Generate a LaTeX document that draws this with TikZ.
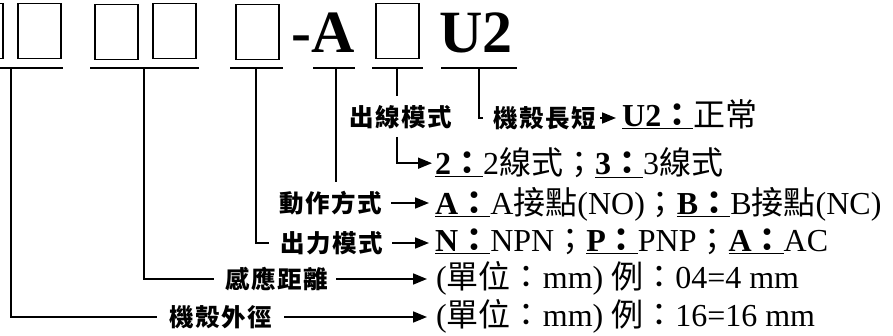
\documentclass[tikz,border=0pt]{standalone}
\usepackage{fontspec}
\setmainfont{Liberation Serif}
\newfontfamily\zhfont{Noto Sans CJK TC}
\newfontfamily\zhlab{Noto Sans CJK TC}[LetterSpace=6]
\newcommand\zh[1]{{\zhfont #1}}
\usetikzlibrary{arrows.meta}
\begin{document}
\begin{tikzpicture}[x=1pt,y=-1pt,
  box/.style={draw,line width=1.5pt,minimum width=43pt,minimum height=55pt,inner sep=0pt,anchor=north west},
  ln/.style={line width=1.7pt},
  arr/.style={line width=1.7pt,-{Triangle[length=14pt,width=11pt]}},
  lab/.style={font=\fontsize{24.5}{24.5}\zhlab\bfseries,inner sep=0pt},
  txt/.style={font=\fontsize{32}{32}\selectfont,inner sep=0pt,anchor=base west},
  big/.style={font=\fontsize{60}{60}\selectfont\bfseries,inner sep=0pt,anchor=base west}]
\useasboundingbox (0,0) rectangle (893,336);
\clip (0,0) rectangle (893,336);
% boxes
\node[box] (b0) at (-41,3) {};
\node[box] (b1) at (17,3) {};
\node[box] (b2) at (94,4) {};
\node[box] (b3) at (152,3) {};
\node[box] (b4) at (235,4) {};
\node[box] (b5) at (375,3) {};
\node[big] (dA) at (291,53) {-A};
\node[big] (uu) at (439,53) {U2};
% underlines
\coordinate (s1a) at (-5,68);  \coordinate (s1b) at (63,68);
\coordinate (s2a) at (90,68);  \coordinate (s2b) at (199,68);
\coordinate (s3a) at (230,68); \coordinate (s3b) at (283,68);
\coordinate (s4a) at (313,68); \coordinate (s4b) at (355,68);
\coordinate (s5a) at (372,68); \coordinate (s5b) at (423,68);
\coordinate (s6a) at (441,68); \coordinate (s6b) at (517,68);
\foreach \i in {1,...,6} {\draw[ln] (s\i a) -- (s\i b);}
\coordinate (t1) at (11,68);
\coordinate (t2) at (144,68);
\coordinate (t3) at (256,68);
\coordinate (t4) at (336,68);
\coordinate (t5) at (397,68);
\coordinate (t6) at (479,68);
% labels
\node[lab] (l1) at (401,117) {出線模式};
\node[lab] (l2) at (545,118) {機殼長短};
\node[lab] (l3) at (331,203) {動作方式};
\node[lab] (l4) at (332,243) {出力模式};
\node[lab] (l5) at (277,279) {感應距離};
\node[lab] (l6) at (221,317) {機殼外徑};
% texts
\node[txt] (r1) at (622,127) {\underline{\textbf{U2\zh{：}}}\zh{正常}};
\node[txt] (r2) at (435,175) {\underline{\textbf{2\zh{：}}}2\zh{線式；}\underline{\textbf{3\zh{：}}}3\zh{線式}};
\node[txt] (r3) at (435,215) {\underline{\textbf{A\zh{：}}}A\zh{接點}(NO)\zh{；}\underline{\textbf{B\zh{：}}}B\zh{接點}(NC)};
\node[txt] (r4) at (435,252) {\underline{\textbf{N\zh{：}}}NPN\zh{；}\underline{\textbf{P\zh{：}}}PNP\zh{；}\underline{\textbf{A\zh{：}}}AC};
\node[txt] (r5) at (436,289) {(\zh{單位：}mm) \zh{例：}04=4 mm};
\node[txt] (r6) at (436,326) {(\zh{單位：}mm) \zh{例：}16=16 mm};
% connectors
\draw[ln] (t1) |- ([xshift=-13pt]l6.west);
\draw[ln] (t2) |- ([xshift=-12pt]l5.west);
\draw[ln] (t3) |- ([xshift=-12pt]l4.west);
\draw[ln] (t4) -- ([yshift=9pt]t4 |- l3.north);
\draw[ln] (t5) -- ([yshift=9pt]t5 |- l1.north);
\draw[ln] (t6) |- ([xshift=-11pt]l2.west);
\draw[arr] ([yshift=-8pt]t5 |- l1.south) |- ([xshift=-3pt]r2.west);
\draw[arr] ([xshift=4pt]l2.east) -- ([xshift=-6pt]l2.east -| r1.west);
\draw[arr] ([xshift=9pt]l3.east) -- ([xshift=-6pt]l3.east -| r3.west);
\draw[arr] ([xshift=9pt]l4.east) -- ([xshift=-6pt]l4.east -| r4.west);
\draw[arr] ([xshift=8pt]l5.east) -- ([xshift=-9pt]l5.east -| r5.west);
\draw[arr] ([xshift=12pt]l6.east) -- ([xshift=-9pt]l6.east -| r6.west);
\end{tikzpicture}
\end{document}
